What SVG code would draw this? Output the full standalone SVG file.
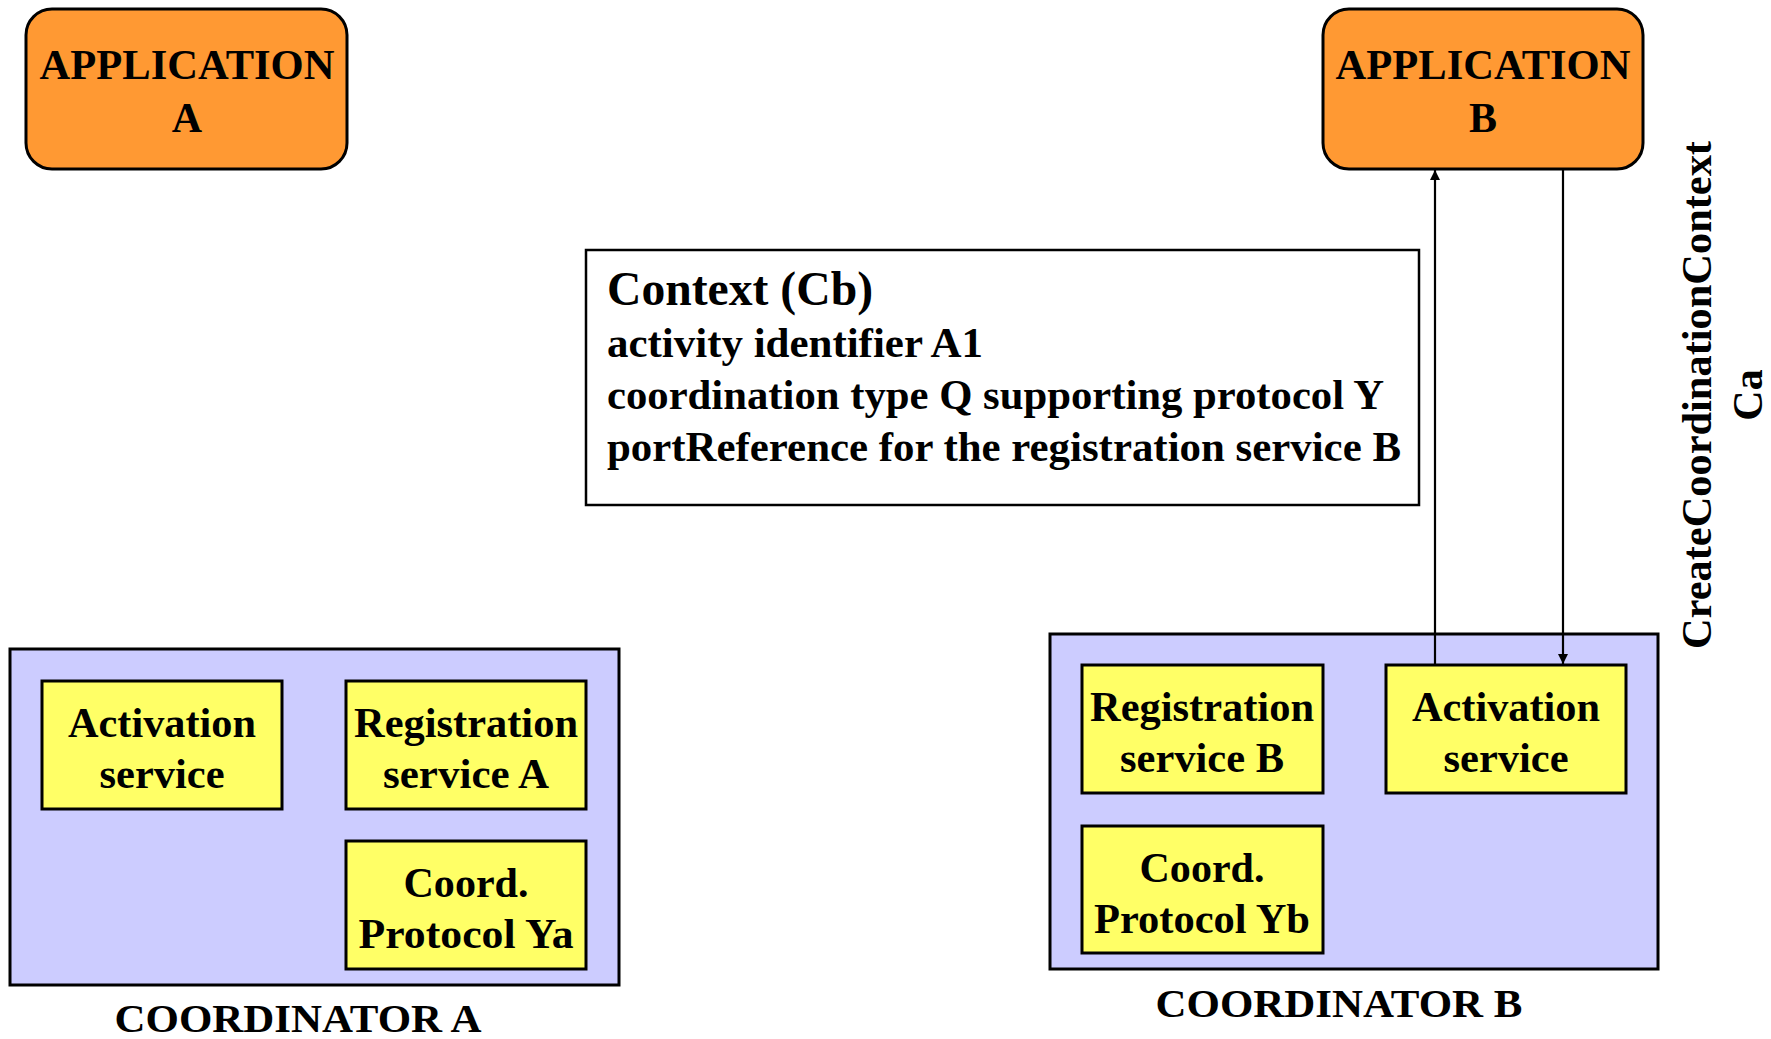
<svg xmlns="http://www.w3.org/2000/svg" width="1771" height="1039" viewBox="0 0 1771 1039">
<defs>
<style>
.t{font-family:"Liberation Serif","Times New Roman",serif;font-weight:bold;fill:#000;}
.c{text-anchor:middle;}
.app{fill:#FF9933;stroke:#000;stroke-width:3;}
.coord{fill:#CCCCFF;stroke:#000;stroke-width:3;}
.svc{fill:#FFFF66;stroke:#000;stroke-width:3;}
.ctx{fill:#fff;stroke:#000;stroke-width:2.5;}
.conn{stroke:#000;stroke-width:2.2;fill:none;}
</style>
<marker id="ah" markerWidth="12" markerHeight="12" refX="10" refY="5" orient="auto" markerUnits="userSpaceOnUse">
<path d="M0,0 L10,5 L0,10 Z" fill="#000"/>
</marker>
</defs>
<rect width="1771" height="1039" fill="#fff"/>

<g id="appA">
<rect class="app" x="26" y="9" width="321" height="160" rx="26" ry="26"/>
<text class="t c" x="187" y="79" font-size="42" textLength="295" lengthAdjust="spacingAndGlyphs">APPLICATION</text>
<text class="t c" x="187" y="132" font-size="42">A</text>
</g>

<g id="appB">
<rect class="app" x="1323" y="9" width="320" height="160" rx="26" ry="26"/>
<text class="t c" x="1483" y="79" font-size="42" textLength="295" lengthAdjust="spacingAndGlyphs">APPLICATION</text>
<text class="t c" x="1483" y="132" font-size="42">B</text>
</g>

<g id="context">
<rect class="ctx" x="586" y="250" width="833" height="255"/>
<text class="t" x="607" y="305" font-size="48" textLength="266" lengthAdjust="spacingAndGlyphs">Context (Cb)</text>
<text class="t" x="607" y="357" font-size="42" textLength="376" lengthAdjust="spacingAndGlyphs">activity identifier A1</text>
<text class="t" x="607" y="409" font-size="42" textLength="777" lengthAdjust="spacingAndGlyphs">coordination type Q supporting protocol Y</text>
<text class="t" x="607" y="461" font-size="42" textLength="794" lengthAdjust="spacingAndGlyphs">portReference for the registration service B</text>
</g>

<g id="coordinatorA">
<rect class="coord" x="10" y="649" width="609" height="336"/>
<text class="t c" x="298" y="1032" font-size="41" textLength="367" lengthAdjust="spacingAndGlyphs">COORDINATOR A</text>
</g>
<g id="activationA">
<rect class="svc" x="42" y="681" width="240" height="128"/>
<text class="t c" x="162" y="737" font-size="42" textLength="188" lengthAdjust="spacingAndGlyphs">Activation</text>
<text class="t c" x="162" y="788" font-size="42" textLength="125" lengthAdjust="spacingAndGlyphs">service</text>
</g>
<g id="registrationA">
<rect class="svc" x="346" y="681" width="240" height="128"/>
<text class="t c" x="466" y="737" font-size="42" textLength="224" lengthAdjust="spacingAndGlyphs">Registration</text>
<text class="t c" x="466" y="788" font-size="42" textLength="166" lengthAdjust="spacingAndGlyphs">service A</text>
</g>
<g id="protocolYa">
<rect class="svc" x="346" y="841" width="240" height="128"/>
<text class="t c" x="466" y="897" font-size="42" textLength="125" lengthAdjust="spacingAndGlyphs">Coord.</text>
<text class="t c" x="466" y="948" font-size="42" textLength="215" lengthAdjust="spacingAndGlyphs">Protocol Ya</text>
</g>

<g id="coordinatorB">
<rect class="coord" x="1050" y="634" width="608" height="335"/>
<text class="t c" x="1339" y="1017" font-size="41" textLength="367" lengthAdjust="spacingAndGlyphs">COORDINATOR B</text>
</g>
<g id="registrationB">
<rect class="svc" x="1082" y="665" width="241" height="128"/>
<text class="t c" x="1202" y="721" font-size="42" textLength="224" lengthAdjust="spacingAndGlyphs">Registration</text>
<text class="t c" x="1202" y="772" font-size="42" textLength="164" lengthAdjust="spacingAndGlyphs">service B</text>
</g>
<g id="activationB">
<rect class="svc" x="1386" y="665" width="240" height="128"/>
<text class="t c" x="1506" y="721" font-size="42" textLength="188" lengthAdjust="spacingAndGlyphs">Activation</text>
<text class="t c" x="1506" y="772" font-size="42" textLength="125" lengthAdjust="spacingAndGlyphs">service</text>
</g>
<g id="protocolYb">
<rect class="svc" x="1082" y="826" width="241" height="127"/>
<text class="t c" x="1202" y="882" font-size="42" textLength="125" lengthAdjust="spacingAndGlyphs">Coord.</text>
<text class="t c" x="1202" y="933" font-size="42" textLength="216" lengthAdjust="spacingAndGlyphs">Protocol Yb</text>
</g>

<g id="connectors">
<line class="conn" x1="1435" y1="665" x2="1435" y2="170" marker-end="url(#ah)"/>
<line class="conn" x1="1563" y1="169" x2="1563" y2="664" marker-end="url(#ah)"/>
</g>

<g id="label-create">
<text class="t c" font-size="42" transform="translate(1711,395) rotate(-90)" textLength="508" lengthAdjust="spacingAndGlyphs">CreateCoordinationContext</text>
<text class="t c" font-size="42" transform="translate(1762,395) rotate(-90)">Ca</text>
</g>
</svg>
